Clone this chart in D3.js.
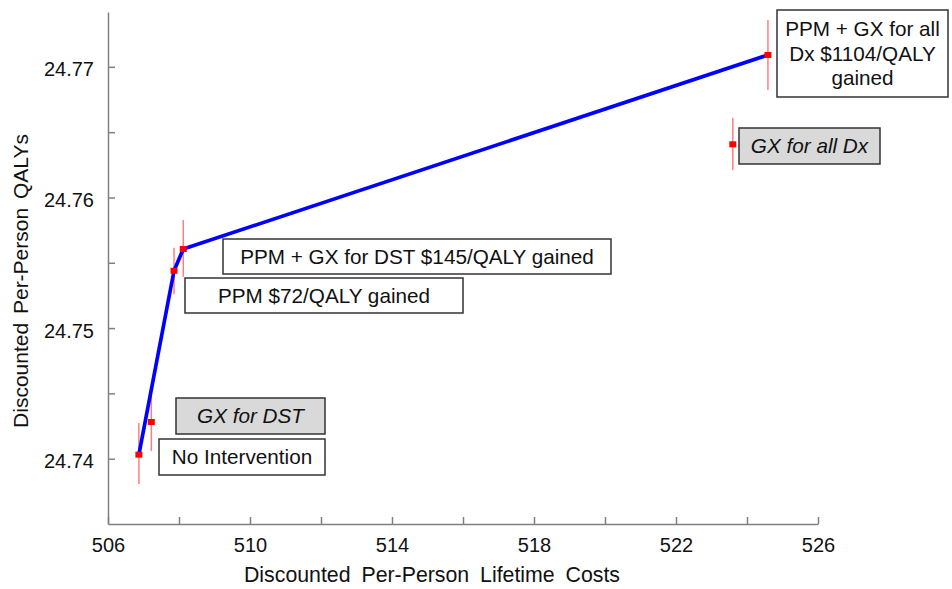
<!DOCTYPE html>
<html>
<head>
<meta charset="utf-8">
<script src="https://cdn.jsdelivr.net/npm/d3@7"></script>
<style>
  html, body { margin: 0; padding: 0; background: #fff; }
  svg { display: block; font-family: "Liberation Sans", Arial, sans-serif; }
</style>
</head>
<body>
<svg id="chart" width="952" height="589"></svg>
<script>
// ---- Data ----
const strategies = ["No Intervention", "GX for DST", "PPM", "PPM + GX for DST", "GX for all Dx", "PPM + GX for all Dx"];
const costs      = [506.87, 507.22, 507.86, 508.12, 523.60, 524.59];
const qalys      = [24.74031, 24.74281, 24.75439, 24.75605, 24.76407, 24.77091];
const qalyLow    = [24.73806, 24.74059, 24.75259, 24.75393, 24.76210, 24.76823];
const qalyHigh   = [24.74273, 24.74503, 24.75615, 24.75827, 24.76611, 24.77359];
const frontier   = ["No Intervention", "PPM", "PPM + GX for DST", "PPM + GX for all Dx"];
const xTicks     = [506, 508, 510, 512, 514, 516, 518, 520, 522, 524, 526];
const xTickLabels = ["506", "", "510", "", "514", "", "518", "", "522", "", "526"];
const yTicks     = [24.74, 24.745, 24.75, 24.755, 24.76, 24.765, 24.77];
const yTickLabels = ["24.74", "", "24.75", "", "24.76", "", "24.77"];
const labelTexts = {
  "No Intervention": ["No Intervention"],
  "GX for DST": ["GX for DST"],
  "PPM": ["PPM $72/QALY gained"],
  "PPM + GX for DST": ["PPM + GX for DST $145/QALY gained"],
  "GX for all Dx": ["GX for all Dx"],
  "PPM + GX for all Dx": ["PPM + GX for all", "Dx $1104/QALY", "gained"]
};
const dominated = ["GX for DST", "GX for all Dx"];

// ---- Layout (pixel boxes for annotation labels) ----
const labelBoxes = {
  "No Intervention":     {x0: 159, y0: 439, x1: 325, y1: 475},
  "GX for DST":          {x0: 176, y0: 398, x1: 325, y1: 434},
  "PPM":                 {x0: 185, y0: 278, x1: 463, y1: 313},
  "PPM + GX for DST":    {x0: 223, y0: 239, x1: 611, y1: 274},
  "GX for all Dx":       {x0: 739, y0: 128, x1: 880, y1: 164},
  "PPM + GX for all Dx": {x0: 777, y0: 10,  x1: 948, y1: 97}
};

const svg = d3.select("#chart");
const axisColor = "#808080";

const x = d3.scaleLinear().domain([506, 526]).range([108, 818]);
const y = d3.scaleLinear().domain([24.735, 24.7742]).range([524, 12]);

// ---- Axes ----
const xAxis = d3.axisBottom(x).tickValues(xTicks).tickSize(-7).tickSizeOuter(0)
  .tickFormat((d, i) => xTickLabels[i]).tickPadding(14);
const gx = svg.append("g").attr("transform", `translate(0,${y.range()[0]})`).call(xAxis);
gx.select(".domain").attr("stroke", axisColor).attr("stroke-width", 1.5);
gx.selectAll(".tick line").attr("stroke", axisColor).attr("stroke-width", 1.5);
gx.selectAll(".tick text").attr("font-size", 20).attr("fill", "#111")
  .attr("font-family", "Liberation Sans, Arial, sans-serif");

const yAxis = d3.axisLeft(y).tickValues(yTicks).tickSize(-7).tickSizeOuter(0)
  .tickFormat((d, i) => yTickLabels[i]).tickPadding(14);
const gy = svg.append("g").attr("transform", `translate(${x.range()[0]},0)`).call(yAxis);
gy.select(".domain").attr("stroke", axisColor).attr("stroke-width", 1.5);
gy.selectAll(".tick line").attr("stroke", axisColor).attr("stroke-width", 1.5);
gy.selectAll(".tick text").attr("font-size", 20).attr("fill", "#111")
  .attr("dy", "0.45em")
  .attr("font-family", "Liberation Sans, Arial, sans-serif");

// Axis titles
svg.append("text").attr("x", 432).attr("y", 582)
  .attr("text-anchor", "middle").attr("font-size", 21.3).attr("fill", "#111")
  .attr("word-spacing", 5)
  .text("Discounted Per-Person Lifetime Costs");
svg.append("text")
  .attr("transform", "translate(28,281) rotate(-90)")
  .attr("text-anchor", "middle").attr("font-size", 21).attr("fill", "#111")
  .attr("word-spacing", 3)
  .text("Discounted Per-Person QALYs");

// ---- Data rows ----
const rows = strategies.map((s, i) => ({
  name: s, cost: costs[i], q: qalys[i], lo: qalyLow[i], hi: qalyHigh[i]
}));

// Error bars
svg.append("g").selectAll("line").data(rows).join("line")
  .attr("x1", d => x(d.cost)).attr("x2", d => x(d.cost))
  .attr("y1", d => y(d.lo)).attr("y2", d => y(d.hi))
  .attr("stroke", "#ff7f7f").attr("stroke-width", 1.5);

// Frontier line
const frontRows = frontier.map(n => rows.find(r => r.name === n));
svg.append("path").datum(frontRows)
  .attr("d", d3.line().x(d => x(d.cost)).y(d => y(d.q)))
  .attr("fill", "none").attr("stroke", "#0000ff").attr("stroke-width", 3.7)
  .attr("stroke-linejoin", "round");

// Markers
svg.append("g").selectAll("rect").data(rows).join("rect")
  .attr("x", d => x(d.cost) - 3.5).attr("y", d => y(d.q) - 3)
  .attr("width", 7).attr("height", 6).attr("fill", "#ff0000");

// ---- Label boxes ----
const lg = svg.append("g");
rows.forEach(r => {
  const b = labelBoxes[r.name];
  const isDom = dominated.includes(r.name);
  lg.append("rect").attr("x", b.x0).attr("y", b.y0)
    .attr("width", b.x1 - b.x0).attr("height", b.y1 - b.y0)
    .attr("fill", isDom ? "#d9d9d9" : "#ffffff")
    .attr("stroke", "#333").attr("stroke-width", 1.5);
  const lines = labelTexts[r.name];
  const lh = 24.5;
  const cy = (b.y0 + b.y1) / 2;
  lines.forEach((t, i) => {
    lg.append("text")
      .attr("x", (b.x0 + b.x1) / 2)
      .attr("y", cy + (i - (lines.length - 1) / 2) * lh)
      .attr("dy", "0.36em")
      .attr("text-anchor", "middle")
      .attr("font-size", 20.7)
      .attr("font-style", isDom ? "italic" : "normal")
      .attr("fill", "#111")
      .text(t);
  });
});
</script>
</body>
</html>
